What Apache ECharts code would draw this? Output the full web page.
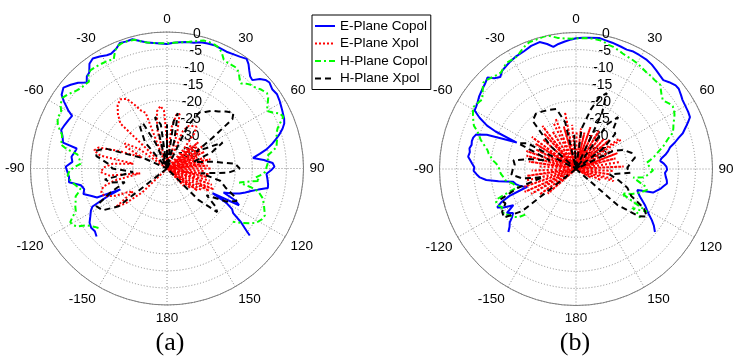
<!DOCTYPE html>
<html>
<head>
<meta charset="utf-8">
<script src="https://cdn.jsdelivr.net/npm/echarts@6.0.0/dist/echarts.min.js"></script>
<style>
  html, body { margin: 0; padding: 0; background: #fff; }
  #chart { width: 733px; height: 357px; }
</style>
</head>
<body>
<div id="chart"></div>
<script>
// [angle deg (0 = top, clockwise), level dB]
// plot (a)
const aECopol = [[-134,-11.3],[-131,-12],[-128,-11.8],[-125,-12.3],[-122,-13.5],[-119,-14.5],[-117,-15.5],[-115,-21],[-114,-25],[-112.5,-17.8],[-110,-16.5],[-107,-14.4],[-104,-15],[-101,-14.3],[-98,-11],[-95,-11.2],[-92,-10.8],[-89,-10.3],[-86,-12.2],[-83,-11.8],[-80,-12.5],[-77.5,-12.9],[-76,-8.6],[-73,-8],[-70,-7],[-67,-7.4],[-64,-7.8],[-61,-8.2],[-59.5,-6.4],[-57,-4],[-55,-2.3],[-52,-1.5],[-49,-2.6],[-46,-3.8],[-43,-5.5],[-41,-4.2],[-39,-3.8],[-36.5,-1.8],[-34,-1.1],[-31,-1.7],[-28,-2.4],[-26,-2.6],[-23,-1.9],[-20.5,-0.7],[-18,-0.9],[-15,-0.8],[-12,-1.8],[-9,-2.6],[-6,-3],[-3,-3.3],[0,-3.5],[3,-3.1],[6,-2.8],[9,-2.5],[12,-2.3],[15,-1.7],[18,-1.5],[21,-1.3],[24,-1.5],[27,-1.6],[30,-1.3],[33,-0.9],[36,-0.3],[38,-1.2],[40,-2.5],[42,-3.6],[44,-4],[46,-2.2],[48,-1.2],[50,-0.8],[53,-1.4],[56,-1.1],[59,-1.5],[62,-2],[64,-2.3],[67,-2.7],[69,-3.2],[71,-4.2],[73,-5.5],[75,-7],[77,-8.5],[79,-10.2],[81,-12.5],[83,-14.6],[85,-11.5],[87,-9],[89,-8.5],[91,-9.5],[93,-10.8],[96,-10.4],[99,-10],[101,-9.9],[103,-12.5],[105,-14.5],[107,-16],[109,-17.5],[111,-19.5],[113,-22],[115,-18],[117,-16.3],[118.5,-24.8],[120,-20],[122,-17.5],[124,-16.6],[126,-13.2],[128,-10.5],[129,-8.8]];
const aEXpol = [[-140,-40],[-134,-30],[-130,-24],[-127,-21.5],[-124,-28],[-121,-26.5],[-118,-23],[-114,-20],[-110,-19.5],[-106,-20.5],[-103,-24],[-100,-32],[-97,-23],[-93,-20.5],[-89,-21.5],[-85,-24],[-82,-30],[-79,-20],[-76,-18],[-73,-19],[-70,-25],[-66,-32],[-62,-26],[-59,-25.7],[-55,-30],[-50,-40],[-46,-21],[-42,-18.5],[-38,-16.5],[-34,-15.5],[-30,-16.5],[-27,-19],[-24,-21.5],[-21,-22.5],[-18,-40],[-14,-28],[-10,-23],[-6,-21.6],[-3,-23],[0,-32],[3,-40],[6,-28],[10,-24],[13,-23.6],[16,-29],[19,-40],[23,-28],[27,-26],[31,-25.5],[35,-25],[38,-27],[41,-33],[44,-40],[46,-30],[48,-40],[50,-28],[52,-38],[54,-29],[56,-40],[58,-27.5],[60,-36],[62,-29],[64,-40],[66,-28],[68,-35],[70,-30.5],[72,-40],[74,-28.5],[76,-37],[78,-27],[80,-40],[82,-29],[84,-36],[86,-28],[88,-40],[90,-27],[92,-38],[94,-29],[96,-40],[98,-27.5],[100,-36],[102,-28],[104,-40],[106,-27],[108,-37],[110,-26],[112,-40],[114,-25],[116,-30],[118,-26],[120,-40],[122,-28],[124,-36],[126,-29],[128,-40],[130,-31],[133,-40],[136,-33],[140,-40]];
const aHCopol = [[-131,-13.4],[-129,-12.8],[-127,-12],[-125,-11],[-123,-8.8],[-121,-7.8],[-119,-7.6],[-117,-9],[-115,-10.5],[-112,-11],[-110,-11.5],[-107,-12],[-105,-13.2],[-103,-14],[-101,-13],[-99,-12.2],[-97,-11.5],[-94,-10.8],[-91,-11.5],[-89,-13],[-87,-14.6],[-84,-14.2],[-81,-13.4],[-79,-10],[-77,-7.9],[-75,-8.2],[-72,-7.6],[-70,-6.5],[-68,-5.5],[-65,-4.6],[-62,-4.9],[-59,-3.6],[-56,-3],[-53,-3.8],[-50,-4.8],[-47,-5.5],[-44,-5.6],[-42,-5.8],[-40,-4.2],[-38,-3.5],[-35,-3.6],[-32,-3.8],[-30,-3.9],[-28,-4.1],[-26,-4.4],[-24,-2.5],[-22,-1.3],[-20,-1],[-17,-0.9],[-14,-1.1],[-11,-2.2],[-8,-2.8],[-5,-3.1],[-2,-3.3],[1,-3.3],[4,-3],[7,-2.7],[10,-2.3],[13,-1.7],[16,-1],[18,-0.9],[21,-1.1],[23.5,-1.5],[25.5,-2.6],[27.5,-4],[30,-4.3],[33,-4.2],[35,-4.2],[37,-5],[39,-6.2],[41,-7],[43,-6],[45,-5.3],[47,-5],[50,-4],[53,-3.3],[55,-3.8],[57,-4.8],[60,-6.2],[62,-5],[64,-3.2],[66,-2.7],[68,-4.2],[70,-5.5],[72.5,-6.4],[75,-6.6],[77,-7],[79,-7.3],[81,-9],[83,-10.5],[86,-10.2],[89,-10.8],[92,-11.2],[94,-12.5],[96,-14],[97.5,-12.5],[99,-15.5],[101,-18.4],[102.5,-15],[104,-12.5],[107,-10.8],[110,-9.8],[113,-9],[115.5,-8.2],[118,-8.4],[121,-9.3],[123,-10.5],[126,-12.8],[129,-15.2]];
const aHXpol = [[-135,-40],[-128,-22],[-123,-17.5],[-118,-16.5],[-113,-22],[-108,-27],[-104,-23],[-100,-21.5],[-96,-30],[-90,-24],[-86,-23],[-80,-19],[-76,-18.5],[-72,-21],[-66,-33],[-60,-40],[-48,-40],[-40,-30],[-33,-25.5],[-28,-25],[-24,-32],[-18,-40],[-13,-24.5],[-8,-27],[-4,-40],[0,-27],[4,-40],[8,-26],[11,-23.5],[15,-32],[20,-40],[26,-26],[30,-21],[34,-20],[38,-18.5],[42,-17.5],[46,-16],[50,-14.6],[53,-16],[56,-24],[60,-30],[65,-22],[70,-26],[76,-32],[82,-26],[86,-20],[90,-18.7],[94,-22],[98,-30],[103,-24],[108,-22],[112,-19],[115,-17.5],[119,-20],[124,-26],[128,-22],[131,-20.5],[135,-27],[140,-40]];

// plot (b)
const bECopol = [[-133,-12.9],[-131,-14.2],[-129,-15],[-127,-16.5],[-125,-17.5],[-122.5,-16],[-120,-18.8],[-118,-16],[-116,-14.3],[-114,-16],[-112,-19],[-110,-24.8],[-108,-23.5],[-106,-22.5],[-104,-21.8],[-101.5,-21.2],[-99,-17],[-97,-13.5],[-95,-11.7],[-93,-10.8],[-91,-10],[-89,-10.2],[-87,-9.5],[-85,-8.8],[-83.5,-8.2],[-81,-8.5],[-79,-8.2],[-77,-8.6],[-75,-8.4],[-73,-8.5],[-71,-9],[-69,-12],[-67.5,-17],[-66,-21],[-65,-14],[-64,-11],[-62,-8],[-60,-5.7],[-58,-5.5],[-56,-5.2],[-53,-4.5],[-50,-4],[-47,-3.5],[-44,-2.7],[-42,-4.2],[-39.5,-5.1],[-37,-4],[-34,-3.5],[-31.5,-3.1],[-28,-2.6],[-24,-2.3],[-20,-1.6],[-16,-1.3],[-13,-2.4],[-10.5,-3.6],[-8,-3],[-5,-2.5],[-2,-2],[0,-1.7],[3,-1.5],[6,-1.3],[10,-1],[13,-1.3],[16,-1.5],[20,-1.8],[23,-2],[26,-1.7],[29,-1.8],[33,-1.9],[36,-2.2],[39,-2.7],[42,-3.2],[44.5,-3.5],[47,-2.7],[50,-1.9],[52,-1.8],[55,-2.4],[57,-2.8],[60,-3],[63,-3.1],[65.5,-3.3],[67,-4.2],[69,-5.5],[71.5,-7],[73,-8.5],[75,-10],[77,-11.7],[79,-12.5],[81,-13.5],[83,-14.8],[84.5,-15.2],[86.5,-14.2],[88.5,-13.5],[90.5,-13.3],[92.5,-13.9],[95,-13.6],[97,-13.2],[99,-13],[101,-13.8],[103,-14.5],[105,-15.5],[107,-16.4],[109,-21],[111,-20.5],[113.5,-19.5],[116,-18.2],[118,-17],[120,-16],[122,-14.8],[124,-13.2],[126,-11.8],[128.6,-10.4]];
const bEXpol = [[-135,-40],[-131,-29],[-128,-40],[-125,-27],[-122,-38],[-119,-25],[-116,-36],[-114,-23.5],[-111,-40],[-109,-24],[-106,-36],[-103,-25],[-100,-40],[-98,-25.5],[-95,-37],[-92,-27],[-89,-40],[-86,-29],[-83,-40],[-81,-26],[-78,-38],[-75,-25],[-73,-40],[-70,-24.5],[-67,-36],[-64,-27],[-61,-40],[-58,-26],[-56,-38],[-54,-24],[-51,-40],[-48,-27],[-45,-40],[-42,-26],[-40,-38],[-38,-24],[-35,-40],[-32,-27],[-29,-40],[-26,-25],[-24,-38],[-22,-24],[-19,-40],[-16,-27],[-13,-38],[-11,-23],[-8,-40],[-5,-27],[-2,-40],[1,-29],[4,-40],[7,-28],[10,-40],[13,-29],[16,-40],[19,-27],[22,-40],[25,-29],[28,-40],[31,-27],[34,-40],[37,-29],[40,-40],[43,-28],[46,-38],[49,-27],[52,-40],[55,-25],[57,-24.4],[60,-38],[63,-28],[66,-40],[69,-27],[72,-38],[75,-28],[78,-40],[81,-27],[84,-38],[87,-26],[90,-40],[93,-29],[96,-40],[99,-30],[102,-40],[105,-29],[108,-28.5],[111,-40],[114,-32],[117,-40],[120,-35],[124,-40]];
const bHCopol = [[-132,-20],[-130,-18],[-128,-17.2],[-126,-16.5],[-124,-16],[-122,-15],[-119.5,-15.5],[-117,-15.5],[-115,-14.8],[-113,-14.6],[-111,-15],[-109,-19],[-107,-22.3],[-105,-21.5],[-103,-21],[-101,-20],[-99,-19],[-96,-18.5],[-94,-18],[-91,-17.5],[-88.5,-17.4],[-86,-16.5],[-84,-15.5],[-82,-14.8],[-80,-14],[-78,-13.5],[-76,-12.5],[-73,-10.8],[-71,-10],[-69,-9],[-67,-7.5],[-65,-6.8],[-62,-5.8],[-59,-4.8],[-57,-5.2],[-55,-5.5],[-53.5,-5.8],[-51,-4.8],[-49,-3.8],[-47,-2.9],[-45,-3.1],[-43,-3.5],[-40.5,-3.9],[-38,-4.2],[-35.5,-3.5],[-33,-2.8],[-30,-2.9],[-28,-2.8],[-26,-2.2],[-24,-1.5],[-22,-0.8],[-20,-0.4],[-17,-0.3],[-14,-0.1],[-12,0],[-10,-0.6],[-8,-1.2],[-5,-1.6],[-2,-1.8],[1,-1.7],[4,-1.5],[7,-1.5],[10.5,-1.6],[13,-2],[15,-2.4],[17,-2.6],[20,-3.1],[22,-3.5],[25,-3.8],[27.5,-4],[30,-4.2],[33,-4.6],[36.5,-5],[39,-5],[41,-5.2],[43,-5.2],[45,-5.1],[47,-6],[49,-6.8],[51.5,-7.5],[53,-7.2],[55,-6.6],[57,-6.2],[59,-6.5],[61,-7],[63,-7.7],[65,-8.5],[67,-9],[69.5,-9.7],[71,-11],[72.5,-12],[74.5,-13],[76.5,-14.3],[79,-15.8],[81,-16.8],[83,-18],[85,-19.2],[87,-18.8],[89,-18.2],[91,-17.4],[92.5,-17.6],[94,-18.6],[96,-19.5],[97,-20.2],[98.5,-23],[100,-22.2],[102,-20.8],[104,-19.2],[106.5,-18.3],[109,-19.5],[111,-20.5],[114,-22],[116,-23.5],[118,-24.8],[120,-20],[121,-15.7],[123,-18],[124.5,-19.9],[126,-17.2],[127.5,-16.4]];
const bHXpol = [[-135,-40],[-128,-20],[-124,-14.5],[-120,-15],[-116,-17],[-112,-16],[-108,-22],[-104,-30],[-100,-24],[-95,-21],[-90,-21.5],[-86,-22],[-82,-21.5],[-78,-26],[-72,-32],[-66,-21.5],[-62,-24],[-56,-40],[-48,-30],[-42,-21],[-36,-20],[-30,-20.5],[-24,-21],[-18,-21.5],[-13,-26],[-8,-40],[-3,-30],[2,-40],[8,-28],[14,-22],[18,-18],[22,-16],[25,-22],[30,-40],[35,-24],[39,-20.4],[43,-24],[48,-24.5],[53,-30],[58,-40],[64,-28],[68,-25],[74,-23],[79,-22.4],[84,-24],[89,-25],[94,-24],[99,-30],[105,-27],[110,-24],[116,-22],[120,-17],[124,-15],[127,-17],[131,-24],[136,-40]];

const seriesNames = ['E-Plane Copol', 'E-Plane Xpol', 'H-Plane Copol', 'H-Plane Xpol'];
const panelLabels = ['(a)', '(b)'];
const rMin = -40, rMax = 0, rStep = 5, angStep = 30;

let chart = echarts.init(document.getElementById('chart'), null, { renderer: 'canvas' });

const font = 'Arial, "Liberation Sans", sans-serif';
const styles = [
    { color: '#0000ff', width: 2, type: 'solid' },
    { color: '#ff0000', width: 2, type: [2, 2] },
    { color: '#00ff00', width: 2, type: [6, 3, 2, 3] },
    { color: '#000000', width: 2, type: [6, 4] }
];

function toPolar(arr) {
    return arr.map(p => [Math.max(p[1], rMin), p[0]]);
}

const centers = [[167, 168.5], [576, 169]];
const labelX = [170, 575];
const radius = 136.5;

let polar = [], angleAxis = [], radiusAxis = [];
centers.forEach(function (c) {
    // grid + angle labels
    let idx = polar.length;
    polar.push({ center: c, radius: radius });
    angleAxis.push({
        polarIndex: idx,
        type: 'value', min: -180, max: 180, interval: angStep,
        startAngle: 270, clockwise: true,
        axisLine: { lineStyle: { color: '#7f7f7f', width: 1 } },
        axisTick: { show: false },
        axisLabel: {
            margin: 6, align: 'center', verticalAlign: 'middle',
            color: '#000', fontSize: 13.5, fontFamily: font,
            formatter: v => (v === -180 ? '180' : String(v))
        },
        splitLine: { lineStyle: { color: '#8a8a8a', type: [1, 2], width: 1 } }
    });
    radiusAxis.push({
        polarIndex: idx,
        type: 'value', min: rMin, max: rMax, interval: rStep,
        axisLine: { show: false }, axisTick: { show: false }, axisLabel: { show: false },
        splitLine: { lineStyle: { color: '#8a8a8a', type: [1, 2], width: 1 } }
    });
    // ring labels along a slightly tilted spoke
    polar.push({ center: c, radius: radius });
    angleAxis.push({ polarIndex: idx + 1, type: 'value', min: 0, max: 360, startAngle: 85.8, show: false });
    radiusAxis.push({
        polarIndex: idx + 1,
        type: 'value', min: rMin, max: rMax, interval: rStep,
        axisLine: { show: false }, axisTick: { show: false }, splitLine: { show: false },
        axisLabel: {
            margin: -20, align: 'center', verticalAlign: 'middle',
            padding: [0, 0, 21, 0],
            color: '#000', fontSize: 14, fontFamily: font,
            formatter: v => (v === rMin ? '' : String(v))
        }
    });
});

const panels = [[aECopol, aEXpol, aHCopol, aHXpol], [bECopol, bEXpol, bHCopol, bHXpol]];
let series = [];
panels.forEach(function (sets, pi) {
    sets.forEach(function (d, si) {
        series.push({
            name: seriesNames[si],
            type: 'line',
            coordinateSystem: 'polar',
            polarIndex: pi * 2,
            symbol: 'none',
            smooth: false,
            clip: false,
            z: 3 + si,
            lineStyle: styles[si],
            itemStyle: { color: styles[si].color },
            data: toPolar(d)
        });
    });
});

var option = {
    animation: false,
    backgroundColor: '#fff',
    graphic: panelLabels.map((t, i) => ({
        type: 'text',
        x: labelX[i],
        y: 343,
        style: {
            text: t, fill: '#000',
            font: '26px "Liberation Serif", "Times New Roman", serif',
            textAlign: 'center', textVerticalAlign: 'middle'
        }
    })),
    legend: {
        orient: 'vertical',
        left: 312, top: 15,
        padding: [4, 3, 4, 2],
        itemGap: 3.5,
        itemWidth: 20, itemHeight: 14,
        backgroundColor: '#fff',
        borderColor: '#000', borderWidth: 1,
        itemStyle: { opacity: 0 },
        textStyle: { color: '#000', fontSize: 13.5, fontFamily: font },
        data: seriesNames
    },
    polar: polar,
    angleAxis: angleAxis,
    radiusAxis: radiusAxis,
    series: series
};
chart.setOption(option);
</script>
</body>
</html>
